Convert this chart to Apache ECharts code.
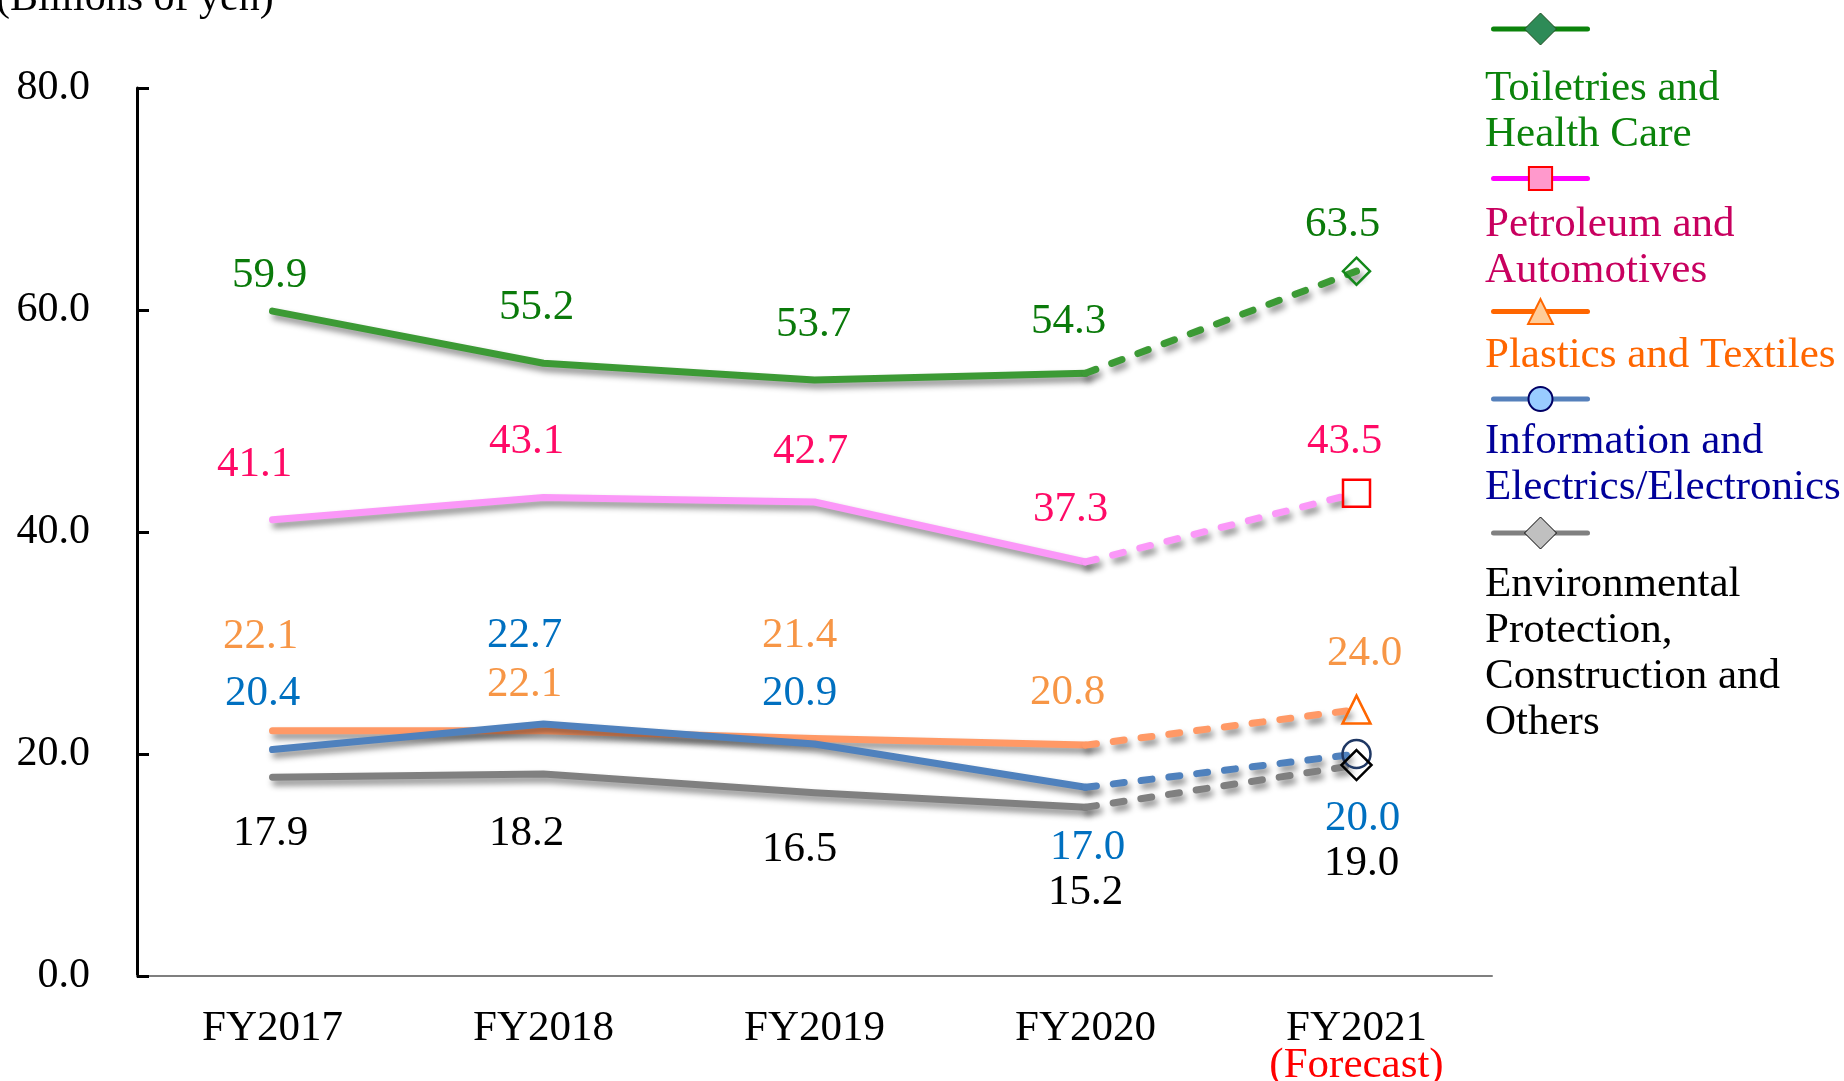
<!DOCTYPE html>
<html style="height: 100%">
<head>
  <meta charset="utf-8">
</head>
<body style="height: 100%; margin: 0">
<div id="container" style="width: 1844px; height: 1081px"></div>
<script src="https://cdn.jsdelivr.net/npm/echarts/dist/echarts.min.js"></script>
<script>
// data (billions of yen)
var years = ['FY2017', 'FY2018', 'FY2019', 'FY2020', 'FY2021'];
var forecastNote = '(Forecast)';
var yMin = 0, yMax = 80, yStep = 20;
var toiletries = [59.9, 55.2, 53.7, 54.3, 63.5];
var petroleum = [41.1, 43.1, 42.7, 37.3, 43.5];
var plastics = [22.1, 22.1, 21.4, 20.8, 24.0];
var information = [20.4, 22.7, 20.9, 17.0, 20.0];
var environmental = [17.9, 18.2, 16.5, 15.2, 19.0];

var FONT = 'Liberation Serif';

// look of every category; label offsets are [dx, dy] from the point
var looks = [
  {name: 'Toiletries and Health Care', data: toiletries, text: 'Toiletries and\nHealth Care',
   line: '#3c9a35', label: '#0a7a0a', textColor: '#0b830b', symbol: 'diamond', size: 27, border: '#13881a',
   lgLine: '#0b830b', lgFill: '#2e8b57', lgBorder: '#1d4d1d', lgBorderW: 1, lgHeight: 40, lgTop: 9, textTop: 66,
   offsets: [[-3, -35], [-7, -56], [-1, -55], [-17, -52], [-14, -46]]},
  {name: 'Petroleum and Automotives', data: petroleum, text: 'Petroleum and\nAutomotives',
   line: '#fb98f8', label: '#ff0a66', textColor: '#c8005f', symbol: 'rect', size: 27, border: '#ff0000',
   lgLine: '#ff00ff', lgFill: '#ff99cc', lgBorder: '#ff0000', lgBorderW: 2, lgHeight: 29, lgTop: 164, textTop: 202,
   offsets: [[-18, -55], [-17, -56], [-4, -50], [-15, -52], [-12, -51]]},
  {name: 'Plastics and Textiles', data: plastics, text: 'Plastics and Textiles',
   line: '#ff9966', label: '#f79646', textColor: '#ff6600', symbol: 'triangle', size: 28, border: '#ff6600',
   lgLine: '#ff6600', lgFill: '#ffcc99', lgBorder: '#ff6600', lgBorderW: 2, lgHeight: 31, lgTop: 296, textTop: 333,
   offsets: [[-12, -94], [-19, -46], [-15, -103], [-18, -52], [8, -56]]},
  {name: 'Information and Electrics/Electronics', data: information, text: 'Information and\nElectrics/Electronics',
   line: '#4f81bd', label: '#0070c0', textColor: '#000099', symbol: 'circle', size: 28, border: '#1f3864',
   lgLine: '#5580bb', lgFill: '#99ccff', lgBorder: '#000066', lgBorderW: 2, lgHeight: 30, lgTop: 384, textTop: 419,
   offsets: [[-10, -56], [-19, -88], [-15, -50], [2, 60], [6, 65]]},
  {name: 'Environmental Protection, Construction and Others', data: environmental, text: 'Environmental\nProtection,\nConstruction and\nOthers',
   line: '#808080', label: '#000000', textColor: '#000000', symbol: 'diamond', size: 30, border: '#000000',
   lgLine: '#808080', lgFill: '#c0c0c0', lgBorder: '#000000', lgBorderW: 1, lgHeight: 40, lgTop: 513, textTop: 562,
   offsets: [[-2, 56], [-17, 60], [-15, 57], [0, 85], [5, 99]]}
];

var last = years.length - 1;
var series = [];
var legends = [];
var texts = [];

looks.forEach(function (s) {
  var shadow = {shadowColor: 'rgba(0,0,0,0.45)', shadowBlur: 6, shadowOffsetX: 3, shadowOffsetY: 5};
  function lbl(i) {
    return {show: true, position: 'inside', offset: s.offsets[i], color: s.label,
            fontFamily: FONT, fontSize: 43, formatter: function (p) { return p.value.toFixed(1); }};
  }
  // actual results: solid line
  series.push({
    name: s.name, type: 'line', symbol: s.symbol, symbolSize: 0,
    lineStyle: Object.assign({color: s.line, width: 7, cap: 'round', join: 'round'}, shadow),
    itemStyle: {color: s.line},
    data: s.data.map(function (v, i) {
      return i < last ? {value: v, label: lbl(i)} : '-';
    }),
    animation: false
  });
  // forecast: dashed line with a hollow marker at the end
  series.push({
    name: s.name, type: 'line', symbol: s.symbol, symbolSize: s.size,
    lineStyle: Object.assign({color: s.line, width: 7, type: [11, 17], cap: 'round', join: 'round'}, shadow),
    itemStyle: {color: 'rgba(0,0,0,0)', borderColor: s.border, borderWidth: 2.5},
    data: s.data.map(function (v, i) {
      if (i === last) return {value: v, label: lbl(i)};
      if (i === last - 1) return {value: v, symbolSize: 0, label: {show: false}};
      return '-';
    }),
    animation: false
  });
  legends.push({
    left: 1491, top: s.lgTop, padding: 0, itemWidth: 94, itemHeight: s.lgHeight,
    selectedMode: false, formatter: function () { return ''; },
    data: [{name: s.name,
            lineStyle: {color: s.lgLine, width: 5},
            itemStyle: {color: s.lgFill, borderColor: s.lgBorder, borderWidth: s.lgBorderW}}]
  });
  texts.push({
    type: 'text', left: 1485, top: s.textTop,
    style: {text: s.text, fill: s.textColor, fontFamily: FONT, fontSize: 43, lineHeight: 46}
  });
});

var myChart = echarts.init(document.getElementById('container'));
var option = {
  backgroundColor: '#ffffff',
  animation: false,
  title: {
    text: '(Billions of yen)', left: -4, top: -22, padding: 0,
    textStyle: {fontFamily: FONT, fontSize: 42, fontWeight: 'normal', color: '#000'}
  },
  legend: legends,
  grid: {left: 137, right: 352, top: 88, bottom: 105, outerBoundsMode: 'none', containLabel: false},
  xAxis: {
    type: 'category',
    data: years,
    axisLine: {lineStyle: {color: '#7f7f7f', width: 2}},
    axisTick: {
      length: 10, lineStyle: {color: '#7f7f7f', width: 1},
      interval: function (index) { return index % 2 === 1; }
    },
    axisLabel: {
      interval: 0, margin: 34, color: '#000', fontFamily: FONT, fontSize: 43, lineHeight: 37,
      formatter: function (v, i) { return i === last ? v + '\n{f|' + forecastNote + '}' : v; },
      rich: {f: {color: '#ff0000', fontFamily: FONT, fontSize: 43, lineHeight: 37}}
    }
  },
  yAxis: {
    type: 'value',
    min: yMin, max: yMax, interval: yStep,
    splitLine: {show: false},
    axisLine: {show: true, lineStyle: {color: '#000', width: 3}},
    axisTick: {show: true, inside: true, length: 12, lineStyle: {color: '#000', width: 3}},
    axisLabel: {
      margin: 47, padding: [6, 0, 0, 0], color: '#000', fontFamily: FONT, fontSize: 42,
      formatter: function (v) { return v.toFixed(1); }
    }
  },
  graphic: texts,
  series: series
};
myChart.setOption(option);
</script>
</body>
</html>
